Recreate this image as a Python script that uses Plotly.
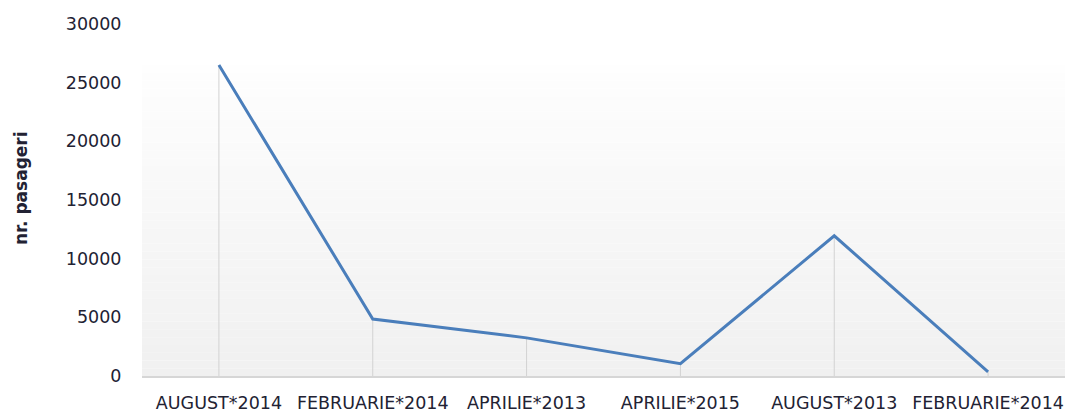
import plotly.graph_objects as go

categories = ["AUGUST*2014", "FEBRUARIE*2014", "APRILIE*2013",
              "APRILIE*2015", "AUGUST*2013", "FEBRUARIE*2014"]
passengers = [26500, 4850, 3250, 1050, 11950, 350]
y_ticks = [0, 5000, 10000, 15000, 20000, 25000, 30000]
y_tick_text = ["0", "5000", "10000", "15000", "20000", "25000", "30000"]
y_title = "nr. pasageri"

W, H = 1065, 410
ML, MR, MT, MB = 142, 0, 24, 34
plot_h = H - MT - MB
plot_w = W - ML - MR

x_idx = list(range(len(categories)))

fig = go.Figure()

# gradient background panel (styling), bands
BG_TOP = 26500
n_bands = 40
for i in range(n_bands):
    f0 = i / n_bands
    f1 = (i + 1) / n_bands
    c = int(round(240 + (254 - 240) * (f0 + f1) / 2))
    fig.add_shape(type="rect", xref="paper", yref="y",
                  x0=0, x1=1, y0=BG_TOP * f0, y1=BG_TOP * f1,
                  fillcolor=f"rgb({c},{c},{c})", line_width=0, layer="below")

# drop lines from each point to the axis
dx, dy = [], []
for xi, v in zip(x_idx, passengers):
    dx += [xi, xi, None]
    dy += [0, v, None]
fig.add_trace(go.Scatter(x=dx, y=dy, mode="lines",
                         line=dict(color="#d2d2d2", width=1),
                         hoverinfo="skip", showlegend=False))

fig.add_trace(go.Scatter(x=x_idx, y=passengers, mode="lines",
                         line=dict(color="#4a7ebb", width=3),
                         showlegend=False, cliponaxis=False))

fig.update_layout(
    width=W, height=H,
    margin=dict(l=ML, r=MR, t=MT, b=MB, pad=0, autoexpand=False),
    paper_bgcolor="white", plot_bgcolor="rgba(0,0,0,0)",
    font=dict(family="DejaVu Sans", size=17, color="#222233"),
    showlegend=False,
)
fig.update_xaxes(
    range=[-0.5, len(categories) - 0.5],
    tickvals=x_idx, ticktext=categories,
    tickfont=dict(family="DejaVu Sans", size=17.5, color="#222233"),
    showgrid=False, zeroline=False, automargin=False,
    showline=True, linecolor="#d6d6d6", linewidth=2,
    ticks="outside", ticklen=10, tickcolor="rgba(0,0,0,0)",
    fixedrange=True,
)
fig.update_yaxes(
    range=[0, 30000], tickvals=y_ticks, ticktext=y_tick_text,
    tickfont=dict(family="DejaVu Sans", size=17.5, color="#222233"),
    showgrid=False, zeroline=False, showline=False, automargin=False,
    ticks="outside", ticklen=16, tickcolor="rgba(0,0,0,0)",
    fixedrange=True,
)

# rotated axis title
fig.add_annotation(
    text=y_title, textangle=-90, showarrow=False,
    xref="paper", yref="paper",
    x=(21 - ML) / plot_w, y=(H - MB - 188) / plot_h,
    xanchor="center", yanchor="middle",
    font=dict(family="DejaVu Sans", size=17, color="#222233", weight="bold"),
)

fig.write_html(
    "out.html",
    config={"displayModeBar": False},
    post_script="document.body.style.margin='0';document.body.style.overflow='hidden';",
)
